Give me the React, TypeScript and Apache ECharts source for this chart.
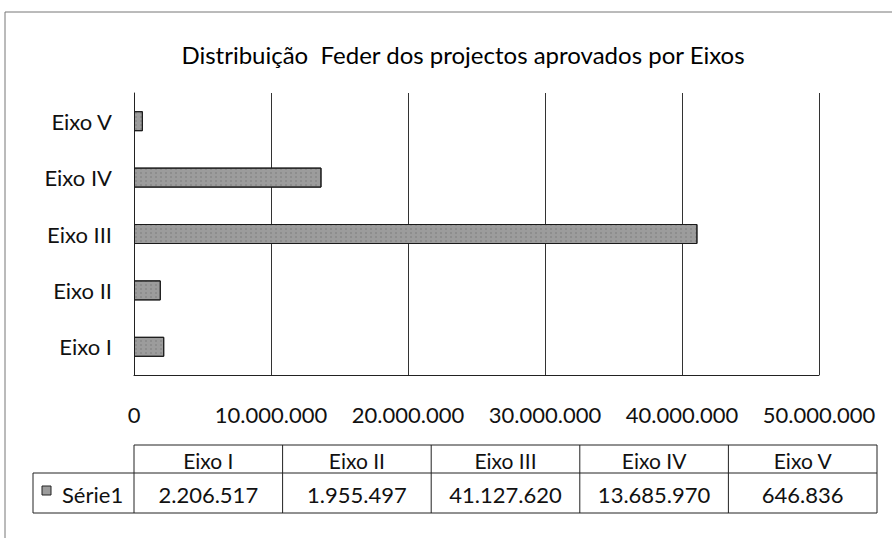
import React, { useEffect, useRef } from "react";
import * as echarts from "echarts";

const titleText = "Distribuição  Feder dos projectos aprovados por Eixos";
const categories = ["Eixo I", "Eixo II", "Eixo III", "Eixo IV", "Eixo V"];
const seriesName = "Série1";
const values = [2206517, 1955497, 41127620, 13685970, 646836];
const axisMin = 0;
const axisMax = 50000000;
const axisInterval = 10000000;

const FONT = "Lato";

function fmt(n: number): string {
  return String(n).replace(/\B(?=(\d{3})+(?!\d))/g, ".");
}

export default function App() {
  const ref = useRef<HTMLDivElement>(null);
  useEffect(() => {
    const el = ref.current!;
    const chart = echarts.init(el, null, { renderer: "svg" });
    const option: any = {
      animation: false,
      backgroundColor: "#ffffff",
      title: {
        text: titleText,
        left: 458,
        textAlign: "center",
        top: 37,
        textStyle: { fontFamily: FONT, fontSize: 24, fontWeight: "normal", color: "#000" },
      },
      grid: { left: 134, right: 73, top: 93, bottom: 163, containLabel: false },
      xAxis: {
        type: "value",
        min: axisMin,
        max: axisMax,
        interval: axisInterval,
        axisLine: { show: true, lineStyle: { color: "#222", width: 1 } },
        axisTick: { show: false },
        splitLine: { show: true, lineStyle: { color: "#333", width: 1 } },
        axisLabel: {
          margin: 28,
          fontFamily: FONT,
          fontSize: 22,
          color: "#111",
          formatter: (v: number) => fmt(v),
        },
      },
      yAxis: {
        type: "category",
        data: categories,
        axisLine: { show: true, lineStyle: { color: "#222", width: 1 } },
        axisTick: { show: false },
        axisLabel: { margin: 22, fontFamily: FONT, fontSize: 22, color: "#111" },
      },
      series: [
        {
          name: seriesName,
          type: "bar",
          data: values,
          barWidth: 20,
          itemStyle: {
            color: "#9c9c9c",
            borderColor: "#1a1a1a",
            borderWidth: 1,
            decal: {
              symbol: "rect",
              symbolSize: 0.6,
              color: "rgba(30,30,30,0.4)",
              dashArrayX: [2, 3],
              dashArrayY: [2, 2],
              rotation: 0,
            },
          },
        },
      ],
    };
    chart.setOption(option);

    const tableLeft = chart.convertToPixel({ xAxisIndex: 0 }, axisMin) as number;
    const tableRight = 877;
    const colW = (tableRight - tableLeft) / categories.length;
    const headTop = 445;
    const rowMid = 473;
    const rowBot = 513;
    const firstLeft = 33;
    const lineStyle = { stroke: "#222", lineWidth: 1 };
    const g: any[] = [];
    // outer chart border
    g.push({ type: "line", shape: { x1: 5, y1: 12, x2: 892, y2: 12 }, style: { stroke: "#777", lineWidth: 1 } });
    g.push({ type: "line", shape: { x1: 5, y1: 12, x2: 5, y2: 538 }, style: { stroke: "#777", lineWidth: 1 } });
    // table lines
    g.push({ type: "line", shape: { x1: tableLeft, y1: headTop, x2: tableRight, y2: headTop }, style: lineStyle });
    g.push({ type: "line", shape: { x1: firstLeft, y1: rowMid, x2: tableRight, y2: rowMid }, style: lineStyle });
    g.push({ type: "line", shape: { x1: firstLeft, y1: rowBot, x2: tableRight, y2: rowBot }, style: lineStyle });
    g.push({ type: "line", shape: { x1: firstLeft, y1: rowMid, x2: firstLeft, y2: rowBot }, style: lineStyle });
    for (let i = 0; i <= categories.length; i++) {
      const x = tableLeft + i * colW;
      g.push({ type: "line", shape: { x1: x, y1: headTop, x2: x, y2: rowBot }, style: lineStyle });
    }
    categories.forEach((c, i) => {
      const cx = tableLeft + (i + 0.5) * colW;
      g.push({
        type: "text",
        x: cx,
        y: (headTop + rowMid) / 2 + 1,
        style: { text: c, fontFamily: FONT, fontSize: 21, fill: "#111", align: "center", verticalAlign: "middle" },
      });
      g.push({
        type: "text",
        x: cx,
        y: (rowMid + rowBot) / 2 + 1,
        style: { text: fmt(values[i]), fontFamily: FONT, fontSize: 22, fill: "#111", align: "center", verticalAlign: "middle" },
      });
    });
    // legend key + series name
    g.push({
      type: "rect",
      shape: { x: 42, y: 486, width: 9, height: 9 },
      style: { fill: "#9c9c9c", stroke: "#222", lineWidth: 1 },
    });
    g.push({
      type: "text",
      x: 62,
      y: (rowMid + rowBot) / 2 + 1,
      style: { text: seriesName, fontFamily: FONT, fontSize: 22, fill: "#111", align: "left", verticalAlign: "middle" },
    });
    chart.setOption({ graphic: g });

    return () => chart.dispose();
  }, []);
  return (
    <div
      ref={ref}
      style={{ position: "fixed", left: 0, top: 0, width: 892, height: 538 }}
    />
  );
}
